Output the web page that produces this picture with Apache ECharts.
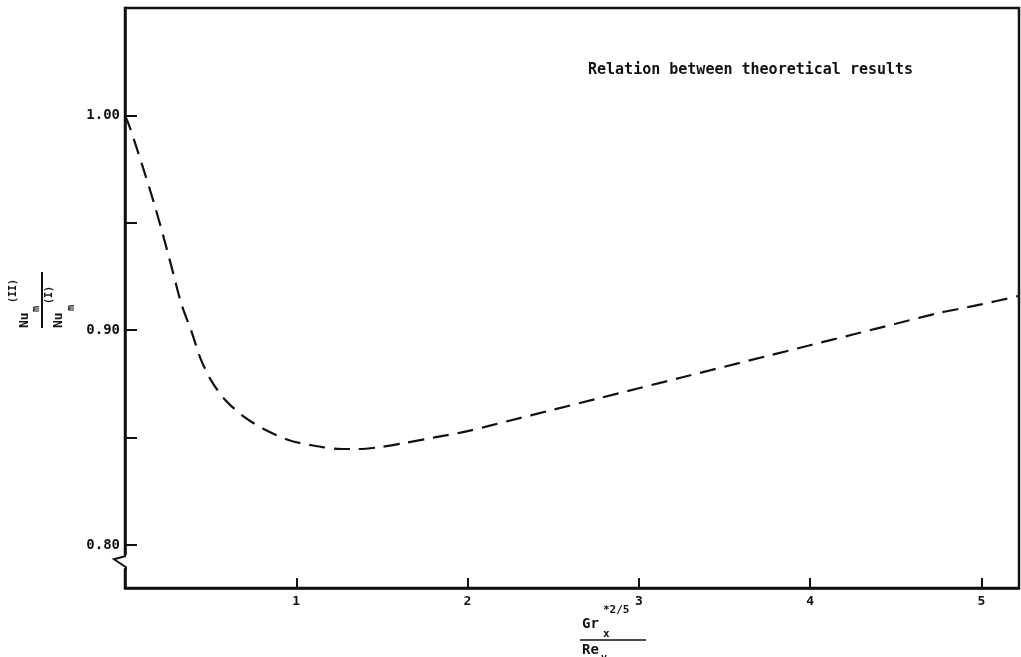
<!DOCTYPE html>
<html>
<head>
<meta charset="utf-8">
<script src="https://cdn.jsdelivr.net/npm/echarts@6/dist/echarts.min.js"></script>
<style>
html,body{margin:0;padding:0;background:#fff;}
#chart{width:1021px;height:657px;}
</style>
</head>
<body>
<div id="chart"></div>
<script>
// ---- data ----
const xValues = [0, 0.03, 0.10, 0.17, 0.23, 0.28, 0.33, 0.39, 0.44, 0.50, 0.58, 0.69, 0.81, 0.95, 1.08, 1.24, 1.36, 1.48, 1.63, 1.80, 2.00, 2.25, 2.50, 2.75, 3.00, 3.25, 3.50, 3.75, 4.00, 4.25, 4.50, 4.75, 5.00, 5.22];
const yValues = [1.000, 0.994, 0.977, 0.959, 0.942, 0.927, 0.912, 0.899, 0.887, 0.877, 0.868, 0.860, 0.854, 0.849, 0.8466, 0.8448, 0.8447, 0.8455, 0.8475, 0.850, 0.853, 0.858, 0.863, 0.868, 0.873, 0.878, 0.883, 0.888, 0.893, 0.898, 0.903, 0.908, 0.912, 0.916];
const yTickValues = [0.80, 0.85, 0.90, 0.95, 1.00];
const yLabelValues = [0.80, 0.90, 1.00];
const xTickValues = [1, 2, 3, 4, 5];
const xLabelValues = [1, 2, 3, 4, 5];
const annotationText = 'Relation between theoretical results';
const yBreakValue = 0.792;

const FONT = '"DejaVu Sans Mono", monospace';
const INK = '#111';

const chart = echarts.init(document.getElementById('chart'), null, {renderer: 'canvas'});
const seriesData = xValues.map((x, i) => [x, yValues[i]]);

chart.setOption({
  backgroundColor: '#fff',
  animation: false,
  title: {
    text: annotationText,
    left: 583, top: 58,
    textStyle: {fontFamily: FONT, fontWeight: 'bold', fontSize: 15, color: INK}
  },
  grid: {left: 125, right: 2, top: 8, bottom: 69, show: true, borderColor: INK, borderWidth: 2.5, backgroundColor: 'transparent'},
  xAxis: {
    type: 'value', min: 0, max: 5.22,
    axisLine: {show: true, lineStyle: {color: INK, width: 2.5}},
    axisTick: {show: true, inside: true, length: 10, customValues: xTickValues, lineStyle: {color: INK, width: 2}},
    axisLabel: {customValues: xLabelValues, margin: 7, fontFamily: FONT, fontWeight: 'bold', fontSize: 13, color: INK},
    splitLine: {show: false}
  },
  yAxis: {
    type: 'value', min: 0.78, max: 1.05,
    axisLine: {show: true, lineStyle: {color: INK, width: 2.5}},
    axisTick: {show: true, inside: true, length: 12, customValues: yTickValues, lineStyle: {color: INK, width: 2}},
    axisLabel: {customValues: yLabelValues, margin: 5, fontFamily: FONT, fontWeight: 'bold', fontSize: 14, color: INK,
      formatter: v => Number(v).toFixed(2)},
    splitLine: {show: false}
  },
  series: [{
    type: 'line', data: seriesData, smooth: 0.3, showSymbol: false, symbol: 'none',
    lineStyle: {color: INK, width: 2.2, type: [16, 9]}
  }]
});

const bp = chart.convertToPixel({gridIndex: 0}, [0, yBreakValue]);
const bx = bp[0], by = bp[1];

function t(text, x, y, size, align) {
  return {type: 'text', style: {text: text, x: x, y: y, font: 'bold ' + size + 'px ' + FONT, fill: INK,
    textAlign: align || 'left', textVerticalAlign: 'middle'}};
}

chart.setOption({
  graphic: [
    // axis break on the y axis
    {type: 'rect', shape: {x: bx - 3, y: by - 7, width: 6, height: 13}, style: {fill: '#fff'}, z: 100},
    {type: 'polyline', shape: {points: [[bx, by - 8], [bx, by - 6], [bx - 11, by - 3], [bx + 1, by + 5], [bx + 1, by + 8]]},
      style: {stroke: INK, lineWidth: 2, fill: null}, z: 101},
    // y axis name: Nu_m^(II) / Nu_m^(I), rotated
    {type: 'group', x: 42, y: 300, rotation: Math.PI / 2, z: 100, children: [
      t('Nu', -28, -17, 13), t('m', -12, -6, 10), t('(II)', -3, -29, 10),
      {type: 'line', shape: {x1: -28, y1: 0, x2: 28, y2: 0}, style: {stroke: INK, lineWidth: 2}},
      t('(I)', -4, 7, 10), t('Nu', -28, 17, 13), t('m', -11, 29, 10)
    ]},
    // x axis name: Gr_x^{*2/5} / Re_v
    {type: 'group', x: 580, y: 640, z: 100, children: [
      t('Gr', 2, -16, 14), t('*2/5', 23, -30, 11), t('x', 23, -6, 11),
      {type: 'line', shape: {x1: 0, y1: 0, x2: 66, y2: 0}, style: {stroke: INK, lineWidth: 1.5}},
      t('Re', 2, 10, 14), t('v', 21, 18, 10)
    ]}
  ]
});
</script>
</body>
</html>
